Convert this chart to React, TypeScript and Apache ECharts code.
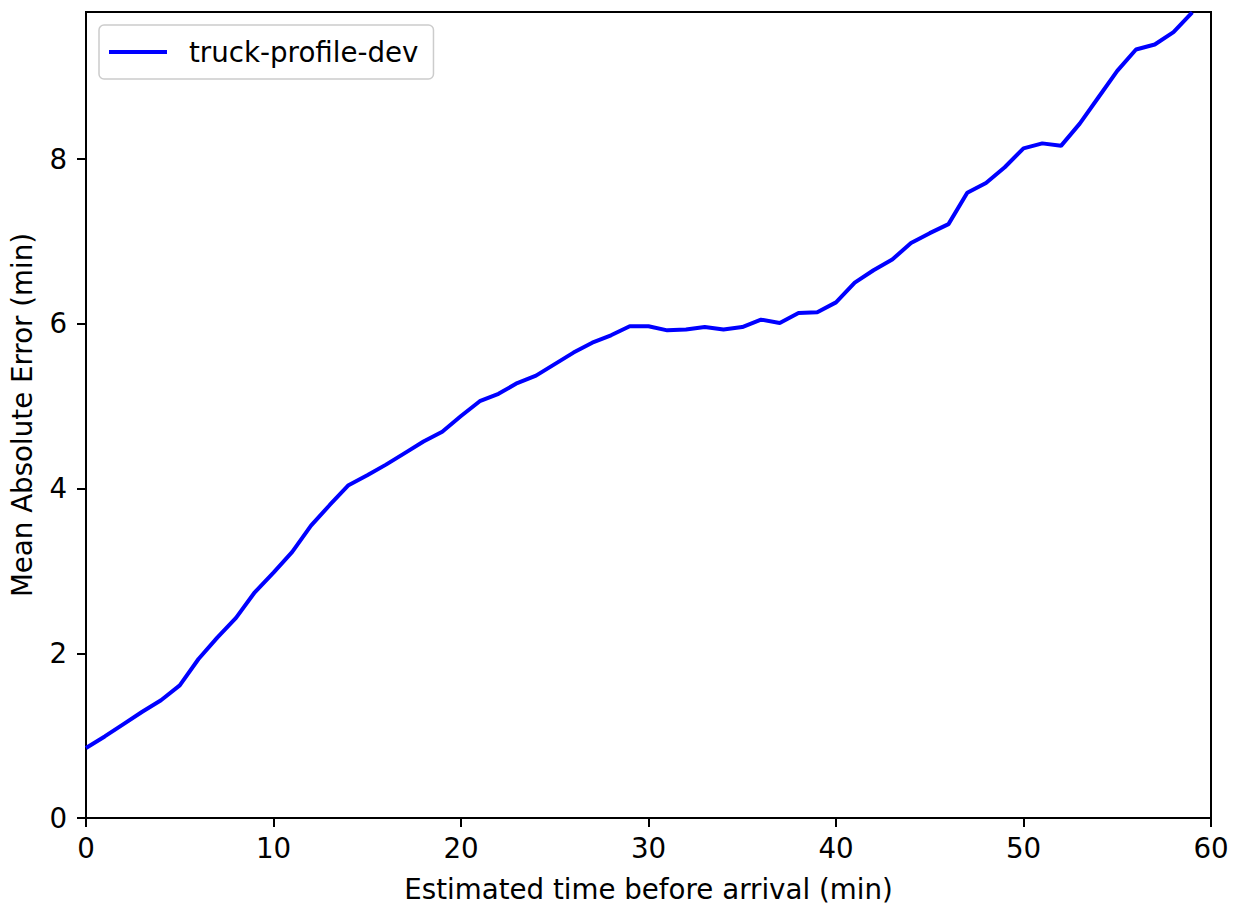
import React, { useEffect, useRef } from "react";
import * as echarts from "echarts";

const seriesName = "truck-profile-dev";
const minutes = [
  0, 1, 2, 3, 4, 5, 6, 7, 8, 9, 10, 11, 12, 13, 14, 15, 16, 17, 18, 19,
  20, 21, 22, 23, 24, 25, 26, 27, 28, 29, 30, 31, 32, 33, 34, 35, 36, 37, 38, 39,
  40, 41, 42, 43, 44, 45, 46, 47, 48, 49, 50, 51, 52, 53, 54, 55, 56, 57, 58, 59,
];
const mae = [
  0.85, 0.99, 1.14, 1.29, 1.43, 1.61, 1.93, 2.19, 2.43, 2.74,
  2.98, 3.23, 3.55, 3.8, 4.04, 4.16, 4.29, 4.43, 4.57, 4.69,
  4.88, 5.06, 5.15, 5.28, 5.37, 5.51, 5.65, 5.77, 5.86, 5.97,
  5.97, 5.92, 5.93, 5.96, 5.93, 5.96, 6.05, 6.01, 6.13, 6.14,
  6.26, 6.5, 6.65, 6.78, 6.98, 7.1, 7.21, 7.59, 7.71, 7.9,
  8.13, 8.19, 8.16, 8.43, 8.75, 9.07, 9.33, 9.39, 9.54, 9.78,
];
const xTicks = [0, 10, 20, 30, 40, 50, 60];
const yTicks = [0, 2, 4, 6, 8];
const xTitle = "Estimated time before arrival (min)";
const yTitle = "Mean Absolute Error (min)";

const FONT = "DejaVu Sans";
const FS = 27.7;

export default function App() {
  const ref = useRef<HTMLDivElement>(null);
  useEffect(() => {
    if (!ref.current) return;
    const chart = echarts.init(ref.current, null, { renderer: "svg" });
    const axisCommon = {
      axisLine: { show: true, lineStyle: { color: "#000", width: 2 } },
      axisTick: { show: true, inside: false, length: 9, lineStyle: { color: "#000", width: 2 } },
      splitLine: { show: false },
      nameLocation: "middle" as const,
      nameTextStyle: { fontFamily: FONT, fontSize: FS, color: "#000" },
    };
    chart.setOption({
      animation: false,
      backgroundColor: "#fff",
      grid: {
        left: 86,
        right: 24,
        top: 12,
        bottom: 86,
        show: true,
        borderColor: "#000",
        borderWidth: 2,
        containLabel: false,
        outerBoundsMode: "none",
      },
      legend: {
        left: 99,
        top: 25,
        padding: [13, 15, 13, 10],
        borderColor: "#cccccc",
        borderWidth: 1.5,
        borderRadius: 5,
        backgroundColor: "rgba(255,255,255,0.8)",
        itemWidth: 58,
        itemHeight: 4,
        textStyle: { fontFamily: FONT, fontSize: FS, color: "#000", padding: [0, 0, 0, 17] },
        data: [{ name: seriesName, icon: "rect", itemStyle: { color: "#0000ff" } }],
      },
      xAxis: {
        type: "value",
        min: 0,
        max: 60,
        interval: 10,
        name: xTitle,
        nameGap: 57,
        ...axisCommon,
        axisTick: { ...axisCommon.axisTick, customValues: xTicks },
        axisLabel: {
          customValues: xTicks,
          margin: 16,
          fontFamily: FONT,
          fontSize: FS,
          color: "#000",
        },
      },
      yAxis: {
        type: "value",
        min: 0,
        max: 9.785,
        interval: 2,
        name: yTitle,
        nameGap: 50,
        ...axisCommon,
        axisTick: { ...axisCommon.axisTick, customValues: yTicks },
        axisLabel: {
          customValues: yTicks,
          margin: 19,
          fontFamily: FONT,
          fontSize: FS,
          color: "#000",
        },
      },
      series: [
        {
          name: seriesName,
          type: "line",
          data: minutes.map((m, i) => [m, mae[i]]),
          symbol: "none",
          showSymbol: false,
          clip: true,
          lineStyle: { color: "#0000ff", width: 4 },
          itemStyle: { color: "#0000ff" },
        },
      ],
    });
    return () => chart.dispose();
  }, []);
  return (
    <div
      ref={ref}
      style={{ position: "fixed", left: 0, top: 0, width: 1235, height: 904, background: "#fff" }}
    />
  );
}
